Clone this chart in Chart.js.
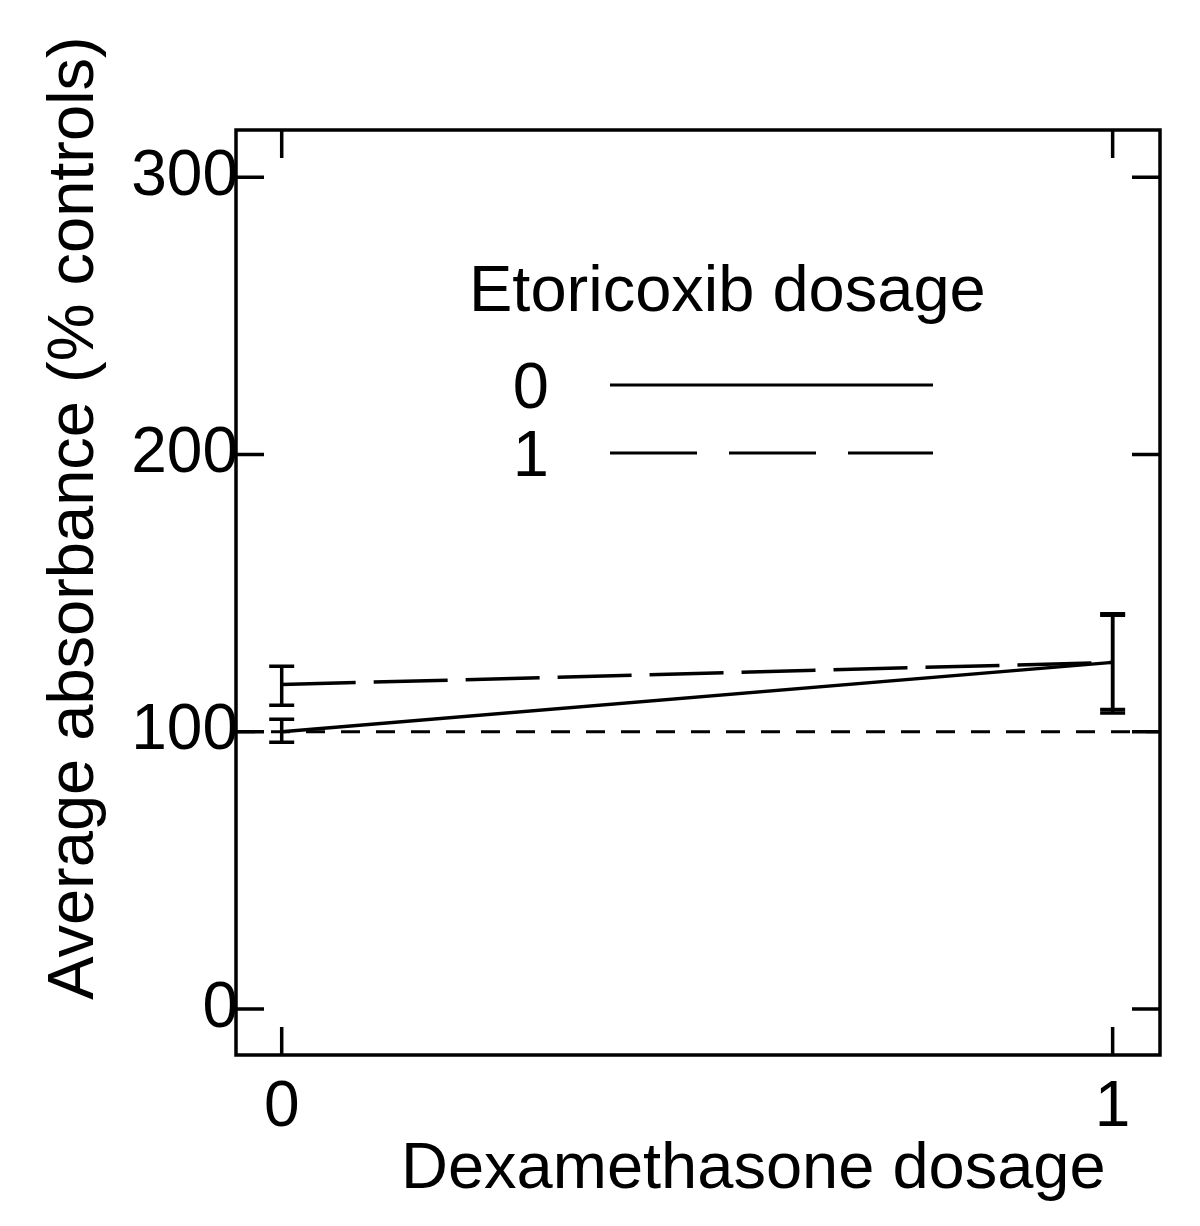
<!DOCTYPE html>
<html lang="en">
<head>
<meta charset="UTF-8">
<title>Average absorbance vs dexamethasone dosage</title>
<script src="https://cdn.jsdelivr.net/npm/chart.js"></script>
<style>
  body { margin: 0; background: #fff; }
  #wrap { width: 1200px; height: 1226px; }
</style>
</head>
<body>
<div id="wrap"><canvas id="myChart" width="1200" height="1226"></canvas></div>
<script>
  // Data
  const dexDose = [0, 1];
  const etoriLabels = ['0', '1'];
  const meanEtori0 = [100, 125];
  const lowEtori0 = [96.2, 108];
  const highEtori0 = [104.5, 142];
  const meanEtori1 = [117, 125];
  const lowEtori1 = [109.5, 106.7];
  const highEtori1 = [123.6, 142.5];
  const yTicks = [0, 100, 200, 300];
  const xTicks = [0, 1];
  const controlLevel = 100;

  const FONT = '"Liberation Sans", Arial, sans-serif';

  const toPoints = (xs, ys) => xs.map((x, i) => ({ x: x, y: ys[i] }));

  // error bars, inward ticks, frame, control line, titles and legend
  const decorations = {
    id: 'decorations',
    afterDatasetsDraw(chart) {
      const { ctx, chartArea: a, scales: { x, y } } = chart;
      ctx.save();
      ctx.strokeStyle = '#000';
      ctx.fillStyle = '#000';

      // dashed control line at 100%
      ctx.lineWidth = 3;
      ctx.setLineDash([19, 16]);
      const yc = y.getPixelForValue(controlLevel);
      ctx.beginPath();
      ctx.moveTo(a.left, yc);
      ctx.lineTo(a.right, yc);
      ctx.stroke();
      ctx.setLineDash([]);

      // error bars
      ctx.lineWidth = 3.5;
      const bars = [[lowEtori0, highEtori0], [lowEtori1, highEtori1]];
      bars.forEach(([lo, hi]) => {
        dexDose.forEach((d, i) => {
          const px = x.getPixelForValue(d);
          const y1 = y.getPixelForValue(lo[i]);
          const y2 = y.getPixelForValue(hi[i]);
          ctx.beginPath();
          ctx.moveTo(px, y1); ctx.lineTo(px, y2);
          ctx.moveTo(px - 12.5, y1); ctx.lineTo(px + 12.5, y1);
          ctx.moveTo(px - 12.5, y2); ctx.lineTo(px + 12.5, y2);
          ctx.stroke();
        });
      });

      // frame
      ctx.lineWidth = 3.5;
      ctx.strokeRect(a.left, a.top, a.right - a.left, a.bottom - a.top);

      // inward ticks on all four sides
      const tl = 28;
      ctx.beginPath();
      yTicks.forEach(v => {
        const py = y.getPixelForValue(v);
        ctx.moveTo(a.left, py); ctx.lineTo(a.left + tl, py);
        ctx.moveTo(a.right, py); ctx.lineTo(a.right - tl, py);
      });
      xTicks.forEach(v => {
        const px = x.getPixelForValue(v);
        ctx.moveTo(px, a.bottom); ctx.lineTo(px, a.bottom - tl);
        ctx.moveTo(px, a.top); ctx.lineTo(px, a.top + tl);
      });
      ctx.stroke();

      // axis titles
      ctx.font = '65px ' + FONT;
      ctx.textBaseline = 'alphabetic';
      ctx.textAlign = 'left';
      ctx.fillText('Dexamethasone dosage', 401, 1188);
      ctx.save();
      ctx.translate(93, 518);
      ctx.rotate(-Math.PI / 2);
      ctx.textAlign = 'center';
      ctx.fillText('Average absorbance (% controls)', 0, 0);
      ctx.restore();

      // legend
      ctx.textAlign = 'left';
      ctx.fillText('Etoricoxib dosage', 469, 311);
      const legendY = [385, 453];
      const dashes = [[], [87, 32]];
      etoriLabels.forEach((lab, i) => {
        ctx.textAlign = 'right';
        ctx.fillText(lab, 549, legendY[i] + 23);
        ctx.lineWidth = 3;
        ctx.setLineDash(dashes[i]);
        ctx.beginPath();
        ctx.moveTo(610, legendY[i]);
        ctx.lineTo(933, legendY[i]);
        ctx.stroke();
        ctx.setLineDash([]);
      });
      ctx.restore();
    }
  };

  const ctx = document.getElementById('myChart').getContext('2d');
  new Chart(ctx, {
    type: 'line',
    data: {
      datasets: [
        {
          label: 'Etoricoxib 0',
          data: toPoints(dexDose, meanEtori0),
          borderColor: '#000',
          borderWidth: 3.5,
          pointRadius: 0,
          fill: false,
        },
        {
          label: 'Etoricoxib 1',
          data: toPoints(dexDose, meanEtori1),
          borderColor: '#000',
          borderWidth: 3.5,
          borderDash: [74, 18],
          pointRadius: 0,
          fill: false,
        },
      ],
    },
    options: {
      responsive: false,
      animation: false,
      layout: { padding: { top: 130, right: 40, left: 0, bottom: 0 } },
      plugins: {
        legend: { display: false },
        tooltip: { enabled: false },
      },
      scales: {
        x: {
          type: 'linear',
          min: -0.055,
          max: 1.057,
          grid: { display: false, drawTicks: false },
          border: { display: false },
          afterBuildTicks: (s) => { s.ticks = xTicks.map(v => ({ value: v })); },
          afterFit: (s) => { s.height = 171; },
          ticks: {
            padding: 15,
            color: '#000',
            font: { family: FONT, size: 64 },
            callback: (v) => String(v),
          },
        },
        y: {
          min: -16.6,
          max: 317,
          grid: { display: false, drawTicks: false },
          border: { display: false },
          afterBuildTicks: (s) => { s.ticks = yTicks.map(v => ({ value: v })); },
          afterFit: (s) => { s.width = 236; },
          ticks: {
            padding: -2,
            color: '#000',
            font: { family: FONT, size: 64 },
            callback: (v) => String(v),
          },
        },
      },
    },
    plugins: [decorations],
  });
</script>
</body>
</html>
